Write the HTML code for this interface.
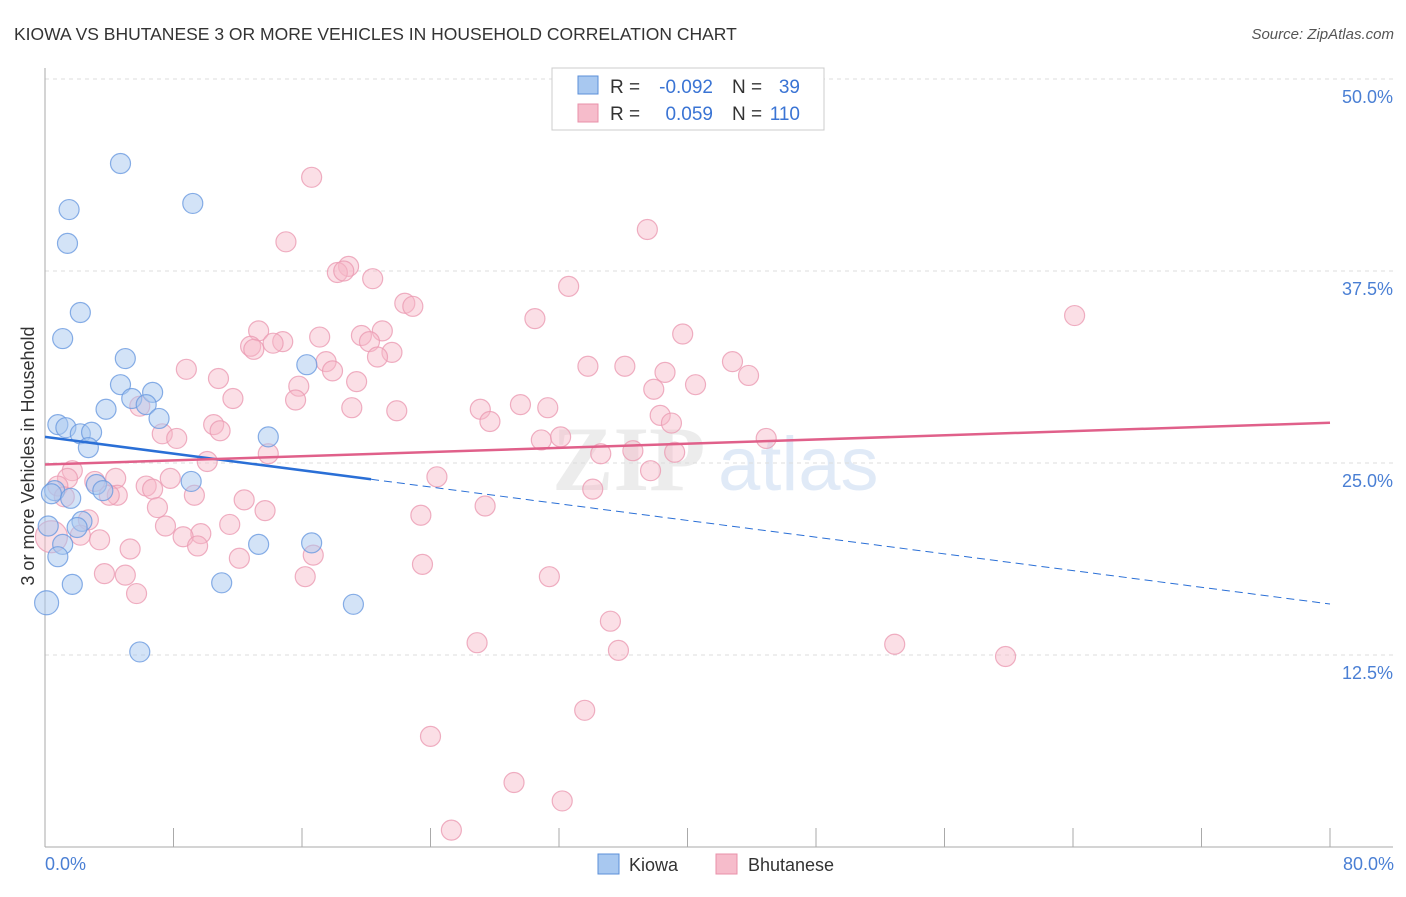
<!DOCTYPE html>
<html><head><meta charset="utf-8"><style>
body{margin:0;background:#fff;font-family:"Liberation Sans",sans-serif}
</style></head><body>
<svg id="chart" width="1406" height="892" xmlns="http://www.w3.org/2000/svg" style="font-family:'Liberation Sans',sans-serif">
<text x="14" y="40" font-size="17.5" fill="#333">KIOWA VS BHUTANESE 3 OR MORE VEHICLES IN HOUSEHOLD CORRELATION CHART</text>
<text x="1394" y="39" font-size="15" fill="#555" text-anchor="end" font-style="italic">Source: ZipAtlas.com</text>
<g opacity="0.18">
<text x="552" y="490" font-size="92" font-weight="bold" fill="#999" font-family="'Liberation Serif',serif">ZIP</text>
<text x="718" y="490" font-size="76" fill="#5b8fd8">atlas</text>
</g>
<g id="grid"></g><g id="axes"></g><g id="pts"></g><g id="lines"></g>
<text transform="translate(34,456) rotate(-90)" font-size="18" fill="#333" text-anchor="middle">3 or more Vehicles in Household</text>
<text x="45" y="870" font-size="18" fill="#4a7fd4">0.0%</text>
<text x="1394" y="870" font-size="18" fill="#4a7fd4" text-anchor="end">80.0%</text>
<g font-size="19">
<rect x="552" y="68" width="272" height="62" fill="#fff" stroke="#ccc"/>
<rect x="578" y="76" width="20" height="18" fill="#a8c8f0" stroke="#5b8fd8"/>
<rect x="578" y="104" width="20" height="18" fill="#f6bccb" stroke="#e890aa"/>
<text x="610" y="93" fill="#333">R =</text>
<text x="713" y="93" fill="#3a74d4" text-anchor="end">-0.092</text>
<text x="732" y="93" fill="#333">N =</text>
<text x="800" y="93" fill="#3a74d4" text-anchor="end">39</text>
<text x="610" y="120" fill="#333">R =</text>
<text x="713" y="120" fill="#3a74d4" text-anchor="end">0.059</text>
<text x="732" y="120" fill="#333">N =</text>
<text x="800" y="120" fill="#3a74d4" text-anchor="end">110</text>
</g>
<g>
<rect x="598" y="854" width="21" height="20" fill="#a8c8f0" stroke="#5b8fd8"/>
<text x="629" y="871" font-size="18" fill="#333">Kiowa</text>
<rect x="716" y="854" width="21" height="20" fill="#f6bccb" stroke="#e890aa"/>
<text x="748" y="871" font-size="18" fill="#333">Bhutanese</text>
</g>
</svg>
<script>
const yTicks=[12.5,25,37.5,50];
const yTickLabels=["12.5%","25.0%","37.5%","50.0%"];
const xTicks=[0,8,16,24,32,40,48,56,64,72,80];
const kiowaX=[4.7,1.5,9.2,1.4,2.2,1.1,5.0,16.3,4.7,6.7,5.4,6.3,3.8,7.1,0.8,1.3,2.2,2.9,2.7,13.9,9.1,3.2,3.6,0.6,0.4,1.6,2.3,2.0,0.2,1.1,16.6,13.3,0.8,1.7,11.0,0.1,19.2,5.9];
const kiowaY=[44.5,41.5,41.9,39.3,34.8,33.1,31.8,31.4,30.1,29.6,29.2,28.8,28.5,27.9,27.5,27.3,26.9,27.0,26.0,26.7,23.8,23.6,23.2,23.2,23.0,22.7,21.2,20.8,20.9,19.7,19.8,19.7,18.9,17.1,17.2,15.9,15.8,12.7];
const bhutX=[16.6,37.5,15.0,18.9,18.2,18.6,20.4,32.6,22.4,22.9,64.1,30.5,13.3,17.1,19.7,21.0,39.7,14.8,14.2,12.8,13.0,20.2,21.6,20.7,17.5,42.8,33.8,36.1,8.8,17.9,38.6,43.8,10.8,19.4,15.8,40.5,37.9,11.7,15.6,29.6,31.3,19.1,5.9,21.9,27.1,38.3,27.7,39.0,10.5,10.9,7.3,8.2,30.9,32.1,44.9,13.9,34.6,36.6,39.2,10.1,1.7,37.7,24.4,7.8,4.4,1.4,0.8,3.1,6.3,6.7,34.1,4.5,4.0,9.3,1.2,12.4,7.0,13.7,27.4,23.4,2.7,11.5,7.5,9.7,8.6,2.2,3.4,9.5,0.4,5.3,16.7,12.1,23.5,3.7,5.0,16.2,31.4,5.7,35.2,26.9,35.7,52.9,59.8,33.6,24.0,29.2,32.2,25.3];
const bhutY=[43.6,40.2,39.4,37.8,37.4,37.5,37.0,36.5,35.4,35.2,34.6,34.4,33.6,33.2,33.3,33.6,33.4,32.9,32.8,32.6,32.4,32.9,32.2,31.9,31.6,31.6,31.3,31.3,31.1,31.0,30.9,30.7,30.5,30.3,30.0,30.1,29.8,29.2,29.1,28.8,28.6,28.6,28.7,28.4,28.5,28.1,27.7,27.6,27.5,27.1,26.9,26.6,26.5,26.7,26.6,25.6,25.6,25.8,25.7,25.1,24.5,24.5,24.1,24.0,24.0,24.0,23.5,23.8,23.5,23.3,23.3,22.9,22.9,22.9,22.8,22.6,22.1,21.9,22.2,21.6,21.3,21.0,20.9,20.4,20.2,20.3,20.0,19.6,20.2,19.4,19.0,18.8,18.4,17.8,17.7,17.6,17.6,16.5,14.7,13.3,12.8,13.2,12.4,8.9,7.2,4.2,3.0,1.1];
const kiowaFit=[26.7,-0.136,20.3];
const bhutFit=[24.9,0.034];
const X=v=>45+v*(1285/80), Y=v=>847-v*15.36;
const NS="http://www.w3.org/2000/svg";
function mk(tag,attrs,parent){const e=document.createElementNS(NS,tag);for(const k in attrs)e.setAttribute(k,attrs[k]);document.getElementById(parent).appendChild(e);return e;}
yTicks.forEach((t,i)=>{
 const g=mk('line',{x1:45,x2:1393,y1:Y(t),y2:Y(t),stroke:'#ddd','stroke-dasharray':'4,4'},'grid');
 
 
 const l=mk('text',{x:1393,y:Y(t)+24,'font-size':18,fill:'#4a7fd4','text-anchor':'end'},'grid');
 l.textContent=yTickLabels[i];
 
 
});
const ax=mk('line',{x1:45,x2:1393,y1:847,y2:847,stroke:'#aaa'},'axes');


const ay=mk('line',{x1:45,x2:45,y1:68,y2:847,stroke:'#aaa'},'axes');


xTicks.forEach(t=>{
 const e=mk('line',{x1:X(t),x2:X(t),y1:828,y2:847,stroke:'#aaa'},'axes');
 
 
});
bhutX.forEach((v,i)=>{
 const c=mk('circle',{cx:X(v),cy:Y(bhutY[i]),r:(v<0.5?16:10),fill:'#f6b8c8','fill-opacity':0.45,stroke:'#eb9bb3','stroke-opacity':0.8,'stroke-width':1.2},'pts');
 
 
});
kiowaX.forEach((v,i)=>{
 const c=mk('circle',{cx:X(v),cy:Y(kiowaY[i]),r:(v<0.15?12:10),fill:'#a8c8f0','fill-opacity':0.5,stroke:'#6a9ae0','stroke-opacity':0.8,'stroke-width':1.2},'pts');
 
 
});
const kf=x=>kiowaFit[0]+kiowaFit[1]*x, bf=x=>bhutFit[0]+bhutFit[1]*x;
let l1=mk('line',{x1:X(0),y1:Y(kf(0)),x2:X(kiowaFit[2]),y2:Y(kf(kiowaFit[2])),stroke:'#2a6fd6','stroke-width':2.5},'lines');


let l2=mk('line',{x1:X(kiowaFit[2]),y1:Y(kf(kiowaFit[2])),x2:X(80),y2:Y(kf(80)),stroke:'#2a6fd6','stroke-width':1,'stroke-dasharray':'8,5'},'lines');


let l3=mk('line',{x1:X(0),y1:Y(bf(0)),x2:X(80),y2:Y(bf(80)),stroke:'#e0608a','stroke-width':2.5},'lines');


</script>
</body></html>
